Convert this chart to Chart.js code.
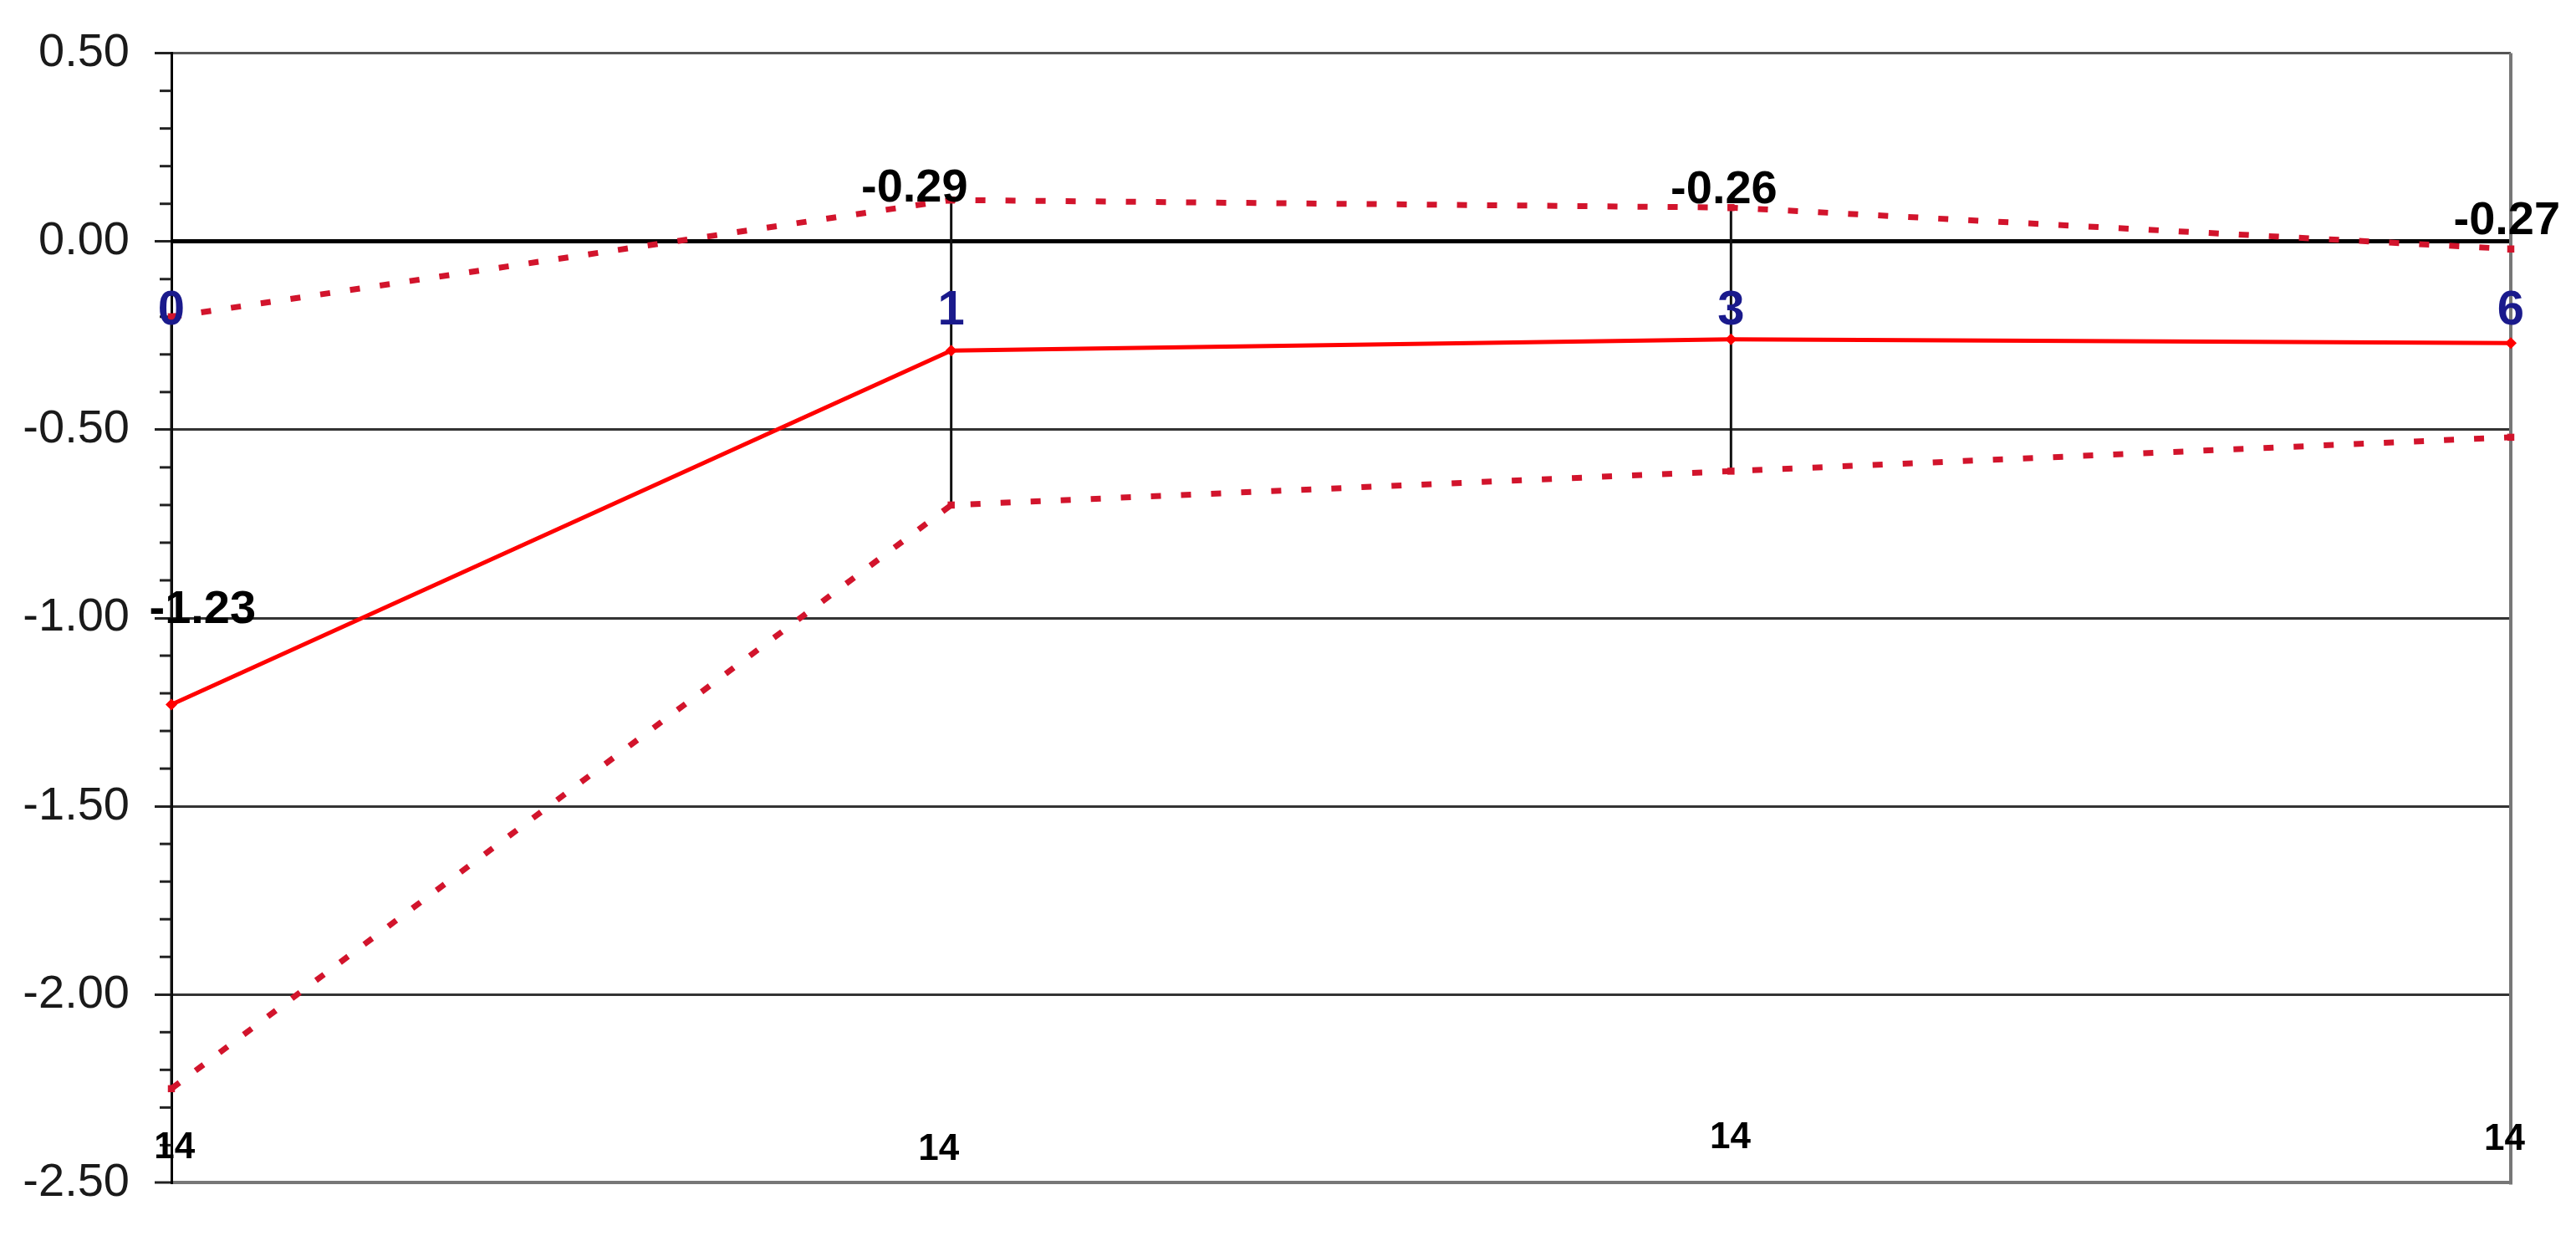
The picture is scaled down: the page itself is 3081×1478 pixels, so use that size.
<!DOCTYPE html>
<html><head><meta charset="utf-8">
<script src="https://cdn.jsdelivr.net/npm/chart.js@4.4.1/dist/chart.umd.min.js"></script>
<style>html,body{margin:0;padding:0;background:#fff;overflow:hidden}#wrap{width:3081px;height:1478px}</style>
</head><body><div id="wrap"><canvas id="c" width="3081" height="1478"></canvas></div>
<script>
const categories = ['0', '1', '3', '6'];
const meanValues = [-1.23, -0.29, -0.26, -0.27];
const upperValues = [-0.20, 0.11, 0.09, -0.02];
const lowerValues = [-2.25, -0.70, -0.61, -0.52];
const countValues = [14, 14, 14, 14];
const yMin = -2.5, yMax = 0.5, yMajorStep = 0.5, yMinorStep = 0.1;

// annotation anchors (data units) for value labels and counts
const meanLabelAnchorX = [0.04, 0.953, 1.991, 2.995];
const meanLabelAnchorY = [-0.98, 0.14, 0.136, 0.053];
const countAnchorX = [0.004, 0.984, 1.999, 2.992];
const countAnchorY = [-2.407, -2.413, -2.380, -2.385];
const categoryLabelY = -0.185;

const FONT = '"Liberation Sans", Arial, sans-serif';
const isMajor = v => Math.abs(Math.round(v * 10) % 5) === 0;

const toPts = arr => arr.map((v, i) => ({x: i, y: v}));

const overlay = {
  id: 'overlay',
  beforeDatasetsDraw(chart) {
    const {ctx, chartArea: a, scales: {x, y}} = chart;
    ctx.save();
    // minor tick marks (shorter)
    ctx.strokeStyle = '#222';
    ctx.lineWidth = 3;
    y.ticks.forEach(t => {
      if (isMajor(t.value)) return;
      const py = y.getPixelForValue(t.value);
      ctx.beginPath();
      ctx.moveTo(a.left - 14, py);
      ctx.lineTo(a.left, py);
      ctx.stroke();
    });
    // error bars
    ctx.strokeStyle = '#111';
    ctx.lineWidth = 3;
    for (let i = 0; i < categories.length; i++) {
      const px = x.getPixelForValue(i);
      ctx.beginPath();
      ctx.moveTo(px, y.getPixelForValue(upperValues[i]));
      ctx.lineTo(px, y.getPixelForValue(lowerValues[i]));
      ctx.stroke();
    }
    // right border
    ctx.strokeStyle = '#777';
    ctx.lineWidth = 4;
    ctx.beginPath();
    ctx.moveTo(a.right, a.top);
    ctx.lineTo(a.right, a.bottom + 2);
    ctx.stroke();
    ctx.restore();
  },
  afterDatasetsDraw(chart) {
    const {ctx, scales: {x, y}} = chart;
    ctx.save();
    ctx.textAlign = 'center';
    ctx.textBaseline = 'middle';
    // category labels
    ctx.fillStyle = '#1a1a8c';
    ctx.font = 'bold 58px ' + FONT;
    categories.forEach((c, i) => {
      ctx.fillText(c, x.getPixelForValue(i), y.getPixelForValue(categoryLabelY));
    });
    // mean labels
    ctx.fillStyle = '#000';
    ctx.font = 'bold 56px ' + FONT;
    meanValues.forEach((v, i) => {
      ctx.fillText(v.toFixed(2), x.getPixelForValue(meanLabelAnchorX[i]), y.getPixelForValue(meanLabelAnchorY[i]));
    });
    // counts
    ctx.font = 'bold 44px ' + FONT;
    countValues.forEach((v, i) => {
      ctx.fillText(String(v), x.getPixelForValue(countAnchorX[i]), y.getPixelForValue(countAnchorY[i]));
    });
    ctx.restore();
  }
};

const ciColor = '#d2142c';
new Chart(document.getElementById('c'), {
  type: 'line',
  data: {
    datasets: [
      {data: toPts(meanValues), borderColor: '#ff0000', borderWidth: 5, pointStyle: 'rectRot',
       pointRadius: 7, pointBackgroundColor: '#ff0000', pointBorderWidth: 0, clip: false, tension: 0},
      {data: toPts(upperValues), borderColor: ciColor, borderWidth: 7, borderDash: [12, 24],
       pointStyle: 'rect', pointRadius: 6, pointBackgroundColor: ciColor, pointBorderWidth: 0, clip: false},
      {data: toPts(lowerValues), borderColor: ciColor, borderWidth: 7, borderDash: [12, 24],
       pointStyle: 'rect', pointRadius: 6, pointBackgroundColor: ciColor, pointBorderWidth: 0, clip: false}
    ]
  },
  options: {
    responsive: false, animation: false, devicePixelRatio: 1,
    layout: {padding: {top: 60, right: 78, bottom: 53, left: 0}},
    plugins: {legend: {display: false}, tooltip: {enabled: false}},
    scales: {
      x: {type: 'linear', min: 0, max: categories.length - 1, display: false},
      y: {
        min: yMin, max: yMax,
        afterFit(s) { s.width = 205; },
        afterBuildTicks(s) {
          const t = [];
          const n = Math.round((yMax - yMin) / yMinorStep);
          for (let i = 0; i <= n; i++) t.push({value: +(yMin + i * yMinorStep).toFixed(2)});
          s.ticks = t;
        },
        ticks: {
          autoSkip: false, padding: 30, color: '#1a1a1a',
          font: {family: FONT, size: 56},
          callback: v => isMajor(v) ? v.toFixed(2) : ''
        },
        grid: {
          color: c => {
            const v = c.tick ? c.tick.value : 0;
            if (!isMajor(v)) return 'rgba(0,0,0,0)';
            if (Math.abs(v - yMax) < 1e-6) return '#555';
            if (Math.abs(v - yMin) < 1e-6) return '#777';
            if (Math.abs(v) < 1e-6) return '#000';
            return '#333';
          },
          lineWidth: c => {
            const v = c.tick ? c.tick.value : 0;
            if (Math.abs(v) < 1e-6) return 5;
            if (Math.abs(v - yMin) < 1e-6) return 4;
            return 3;
          },
          tickLength: 20,
          tickColor: c => (c.tick && isMajor(c.tick.value)) ? '#222' : 'rgba(0,0,0,0)',
          tickWidth: 3
        },
        border: {display: true, color: '#000', width: 3}
      }
    }
  },
  plugins: [overlay]
});
</script>
</body></html>
